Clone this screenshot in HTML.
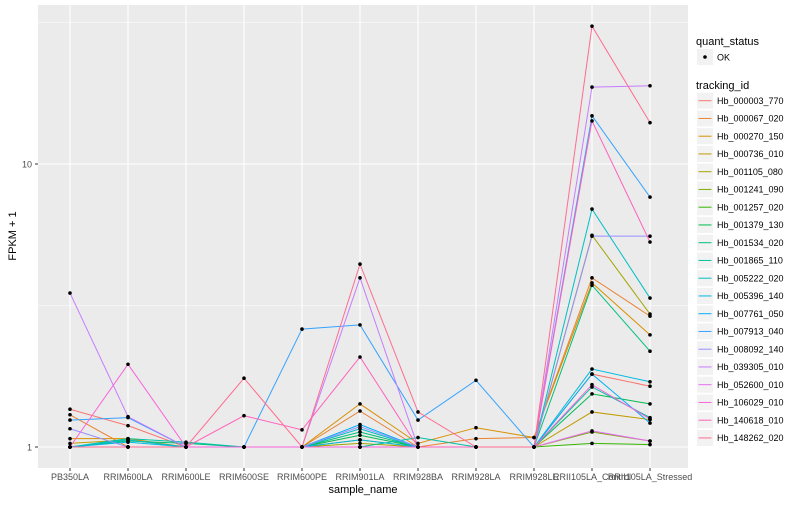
<!DOCTYPE html>
<html><head><meta charset="utf-8"><style>
body{margin:0;background:#fff;font-family:"Liberation Sans",sans-serif;}
</style></head><body>
<svg id="c" width="800" height="500" xmlns="http://www.w3.org/2000/svg" style="font-family:'Liberation Sans',sans-serif">
<rect x="38" y="5" width="650" height="463" fill="#ebebeb"/>
<g id="grid"></g><g id="lines"></g><g id="pts"></g><g id="axes"></g><g id="legend"></g>
</svg>
<script>
const samples=["PB350LA","RRIM600LA","RRIM600LE","RRIM600SE","RRIM600PE","RRIM901LA","RRIM928BA","RRIM928LA","RRIM928LE","RRII105LA_Control","RRII105LA_Stressed"];
const ids=["Hb_000003_770","Hb_000067_020","Hb_000270_150","Hb_000736_010","Hb_001105_080","Hb_001241_090","Hb_001257_020","Hb_001379_130","Hb_001534_020","Hb_001865_110","Hb_005222_020","Hb_005396_140","Hb_007761_050","Hb_007913_040","Hb_008092_140","Hb_039305_010","Hb_052600_010","Hb_106029_010","Hb_140618_010","Hb_148262_020"];
const colors=["#F8766D","#EA8331","#D89000","#C09B00","#A3A500","#7CAE00","#39B600","#00BB4E","#00BF7D","#00C1A3","#00BFC4","#00BAE0","#00B0F6","#35A2FF","#9590FF","#C77CFF","#E76BF3","#FA62DB","#FF62BC","#FF6C91"];
const s00=[1.36,1.19,1,1,1,1,1,1,1,1.81,1.64];
const s01=[1.30,1,1,1,1,1.34,1,1.07,1.08,3.96,2.9];
const s02=[1.07,1.07,1,1,1,1.42,1.03,1.17,1.08,3.8,2.49];
const s03=[1.03,1.06,1,1,1,1.06,1,1,1,1.33,1.25];
const s04=[1,1,1,1,1,1.03,1,1,1,5.6,2.95];
const s05=[1,1,1,1,1,1,1,1,1,1.13,1.05];
const s06=[1,1,1,1,1,1,1,1,1,1.03,1.02];
const s07=[1,1,1,1,1,1.10,1,1,1,1.54,1.42];
const s08=[1,1.05,1.03,1,1,1.13,1,1,1,3.73,2.18];
const s09=[1,1.07,1.04,1,1,1,1.08,1,1,1.63,1.27];
const s10=[1,1.06,1,1,1,1.16,1,1,1,6.93,3.36];
const s11=[1,1.04,1,1,1,1.06,1,1,1,1.886,1.7];
const s12=[1,1,1,1,1,1.2,1,1,1,1.81,1.215];
const s13=[1.245,1.27,1,1,2.61,2.70,1.245,1.72,1,14.8,7.64];
const s14=[1.16,1,1,1,1,1.18,1,1,1,5.56,5.56];
const s15=[3.5,1.28,1,1,1,3.96,1,1,1,18.7,18.9];
const s16=[1,1,1,1,1,1,1,1,1,1.14,1.05];
const s17=[1,1.96,1,1,1,1,1,1,1,1.66,1.256];
const s18=[1,1,1,1.29,1.15,2.08,1,1,1,14.2,5.3];
const s19=[1,1,1,1.75,1,4.43,1.33,1,1,30.7,14];
const series=[s00,s01,s02,s03,s04,s05,s06,s07,s08,s09,s10,s11,s12,s13,s14,s15,s16,s17,s18,s19];
const yTicks=[1,10];
const yMinor=[Math.sqrt(10),Math.sqrt(1000)];
const NS="http://www.w3.org/2000/svg";
const xs=i=>70+i*58;
const ys=v=>447-283*Math.log10(v);
function mk(t,a,p){const e=document.createElementNS(NS,t);for(const k in a)e.setAttribute(k,a[k]);p.appendChild(e);return e;}
const G=document.getElementById('grid'),L=document.getElementById('lines'),P=document.getElementById('pts'),A=document.getElementById('axes'),LG=document.getElementById('legend');
yMinor.forEach(v=>{const e=mk('line',{x1:38,x2:688,y1:ys(v),y2:ys(v),stroke:'#fff','stroke-width':0.5},G);

});
yTicks.forEach(v=>{const e=mk('line',{x1:38,x2:688,y1:ys(v),y2:ys(v),stroke:'#fff','stroke-width':1.1},G);


const t=mk('text',{x:32,y:ys(v)+3.5,'text-anchor':'end','font-size':9,fill:'#4d4d4d'},A);t.textContent=v;


mk('line',{x1:35,x2:38,y1:ys(v),y2:ys(v),stroke:'#333','stroke-width':1},A);});
samples.forEach((s,i)=>{const e=mk('line',{x1:xs(i),x2:xs(i),y1:5,y2:468,stroke:'#fff','stroke-width':1.1},G);


mk('line',{x1:xs(i),x2:xs(i),y1:468,y2:471,stroke:'#333','stroke-width':1},A);
const t=mk('text',{x:xs(i),y:480,'text-anchor':'middle','font-size':9,fill:'#4d4d4d'},A);t.textContent=s;

});
series.forEach((d,k)=>{const pl=mk('polyline',{points:d.map((v,i)=>xs(i)+','+ys(v)).join(' '),fill:'none',stroke:colors[k],'stroke-width':1},L);


d.forEach((v,i)=>{const c=mk('circle',{cx:xs(i),cy:ys(v),r:1.8,fill:'#000'},P);

});});
let t=mk('text',{x:363,y:493,'text-anchor':'middle','font-size':11,fill:'#000'},A);t.textContent='sample_name';


t=mk('text',{x:0,y:0,'text-anchor':'middle','font-size':11,fill:'#000',transform:'translate(16,236) rotate(-90)'},A);t.textContent='FPKM + 1';


t=mk('text',{x:696,y:45,'font-size':11,fill:'#000'},LG);t.textContent='quant_status';


mk('rect',{x:697,y:49,width:16,height:16,fill:'#f2f2f2'},LG);
mk('circle',{cx:705,cy:57,r:1.8,fill:'#000'},LG);
t=mk('text',{x:717,y:60.5,'font-size':9,fill:'#000'},LG);t.textContent='OK';


t=mk('text',{x:696,y:89,'font-size':11,fill:'#000'},LG);t.textContent='tracking_id';


ids.forEach((id,k)=>{const cy=100.7+k*17.75;
mk('rect',{x:697,y:cy-8,width:16,height:16,fill:'#f2f2f2'},LG);
mk('line',{x1:698.5,x2:711.5,y1:cy,y2:cy,stroke:colors[k],'stroke-width':1},LG);
const tt=mk('text',{x:717,y:cy+3.2,'font-size':9,fill:'#000'},LG);tt.textContent=id;

});
</script>
</body></html>
